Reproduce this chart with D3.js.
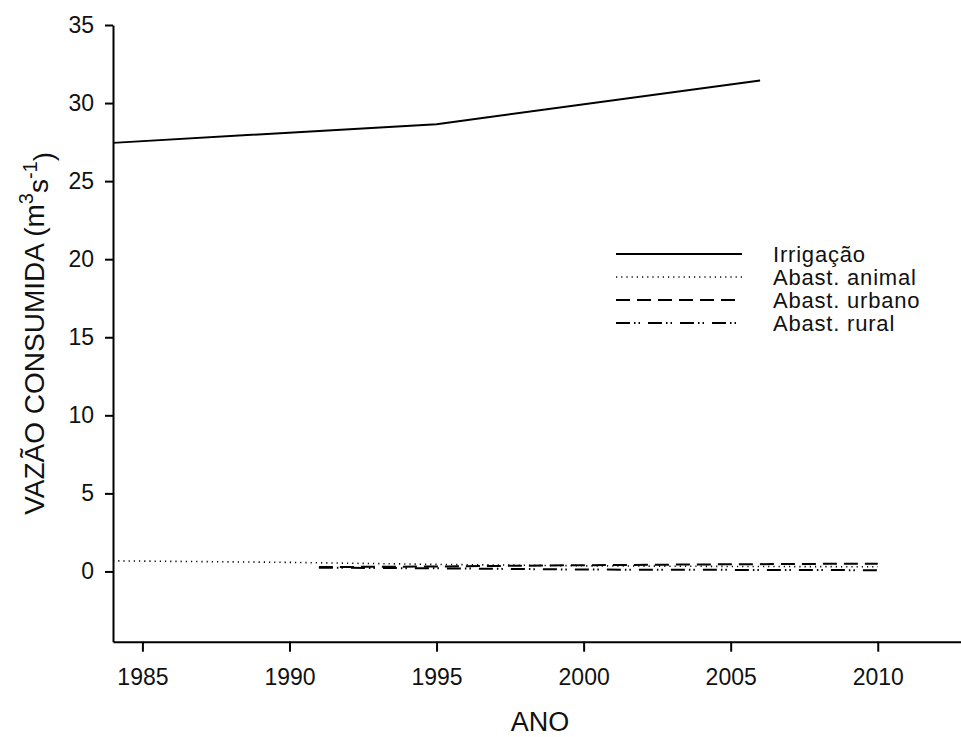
<!DOCTYPE html>
<html>
<head>
<meta charset="utf-8">
<script src="https://cdn.jsdelivr.net/npm/d3@7"></script>
<style>
  html, body { margin: 0; padding: 0; background: #fff; }
  svg { display: block; }
  text { font-family: "Liberation Sans", Arial, sans-serif; fill: #111; }
</style>
</head>
<body>
<svg id="chart" width="961" height="737"></svg>
<script>
// Consumed flow (m3/s) by water use
const irrigYears   = [1984, 1995, 2006];
const irrigValues  = [27.45, 28.65, 31.45];

const animalYears  = [1984, 1990, 1995, 2000, 2005, 2010];
const animalValues = [0.68, 0.58, 0.45, 0.36, 0.32, 0.3];

const urbanYears   = [1991, 1995, 2000, 2005, 2010];
const urbanValues  = [0.28, 0.32, 0.4, 0.46, 0.5];

const ruralYears   = [1991, 1995, 2000, 2005, 2010];
const ruralValues  = [0.24, 0.2, 0.12, 0.1, 0.08];

const seriesNames  = ["Irrigação", "Abast. animal", "Abast. urbano", "Abast. rural"];
const xTicks = [1985, 1990, 1995, 2000, 2005, 2010];
const yTicks = [0, 5, 10, 15, 20, 25, 30, 35];

const svg = d3.select("#chart");

const x = d3.scaleLinear().domain([1984, 2013]).range([113, 966]);
const y = d3.scaleLinear().domain([-4.5, 35]).range([641.7, 25]);

const styles = [
  { width: 2,   dash: null },
  { width: 1.6, dash: "1.2,4" },
  { width: 2,   dash: "14,7" },
  { width: 2,   dash: "14,4,1.5,3,1.5,8" }
];

const series = [
  irrigYears.map((d, i) => [d, irrigValues[i]]),
  animalYears.map((d, i) => [d, animalValues[i]]),
  urbanYears.map((d, i) => [d, urbanValues[i]]),
  ruralYears.map((d, i) => [d, ruralValues[i]])
];

const line = d3.line().x(d => x(d[0])).y(d => y(d[1]));

series.forEach((pts, i) => {
  svg.append("path")
    .datum(pts)
    .attr("d", line)
    .attr("fill", "none")
    .attr("stroke", "#000")
    .attr("stroke-width", styles[i].width)
    .attr("stroke-dasharray", styles[i].dash);
});

// Axes
const xAxis = svg.append("g")
  .attr("transform", `translate(0,${y.range()[0]})`)
  .call(d3.axisBottom(x).tickValues(xTicks).tickFormat(d3.format("d"))
        .tickSize(10).tickSizeOuter(0).tickPadding(17));
const yAxis = svg.append("g")
  .attr("transform", `translate(${x.range()[0]},0)`)
  .call(d3.axisLeft(y).tickValues(yTicks).tickSize(8).tickSizeOuter(0).tickPadding(11));

[xAxis, yAxis].forEach(g => {
  g.select(".domain").attr("stroke", "#000").attr("stroke-width", 2);
  g.selectAll(".tick line").attr("stroke", "#000").attr("stroke-width", 2);
  g.selectAll(".tick text").style("font-size", "23px")
    .attr("font-family", null).style("fill", "#111");
});

// Axis titles
svg.append("text")
  .attr("x", 540).attr("y", 731)
  .attr("text-anchor", "middle")
  .style("font-size", "27px")
  .text("ANO");

const yTitle = svg.append("text")
  .attr("transform", `translate(44,${(y.range()[0] + y.range()[1]) / 2}) rotate(-90)`)
  .attr("text-anchor", "middle")
  .style("font-size", "28px");
yTitle.append("tspan").text("VAZÃO CONSUMIDA (m");
yTitle.append("tspan").attr("dy", "-0.55em").style("font-size", "20px").text("3");
yTitle.append("tspan").attr("dy", "0.55em").text("s");
yTitle.append("tspan").attr("dy", "-0.55em").style("font-size", "20px").text("-1");
yTitle.append("tspan").attr("dy", "0.55em").text(")");

// Legend
const legend = svg.append("g");
seriesNames.forEach((name, i) => {
  const cy = 254 + i * 23;
  legend.append("line")
    .attr("x1", 616).attr("x2", 742)
    .attr("y1", cy).attr("y2", cy)
    .attr("stroke", "#000")
    .attr("stroke-width", styles[i].width)
    .attr("stroke-dasharray", styles[i].dash);
  legend.append("text")
    .attr("x", 773).attr("y", cy + 7.5)
    .style("font-size", "22px")
    .style("letter-spacing", "0.8px")
    .text(name);
});
</script>
</body>
</html>
